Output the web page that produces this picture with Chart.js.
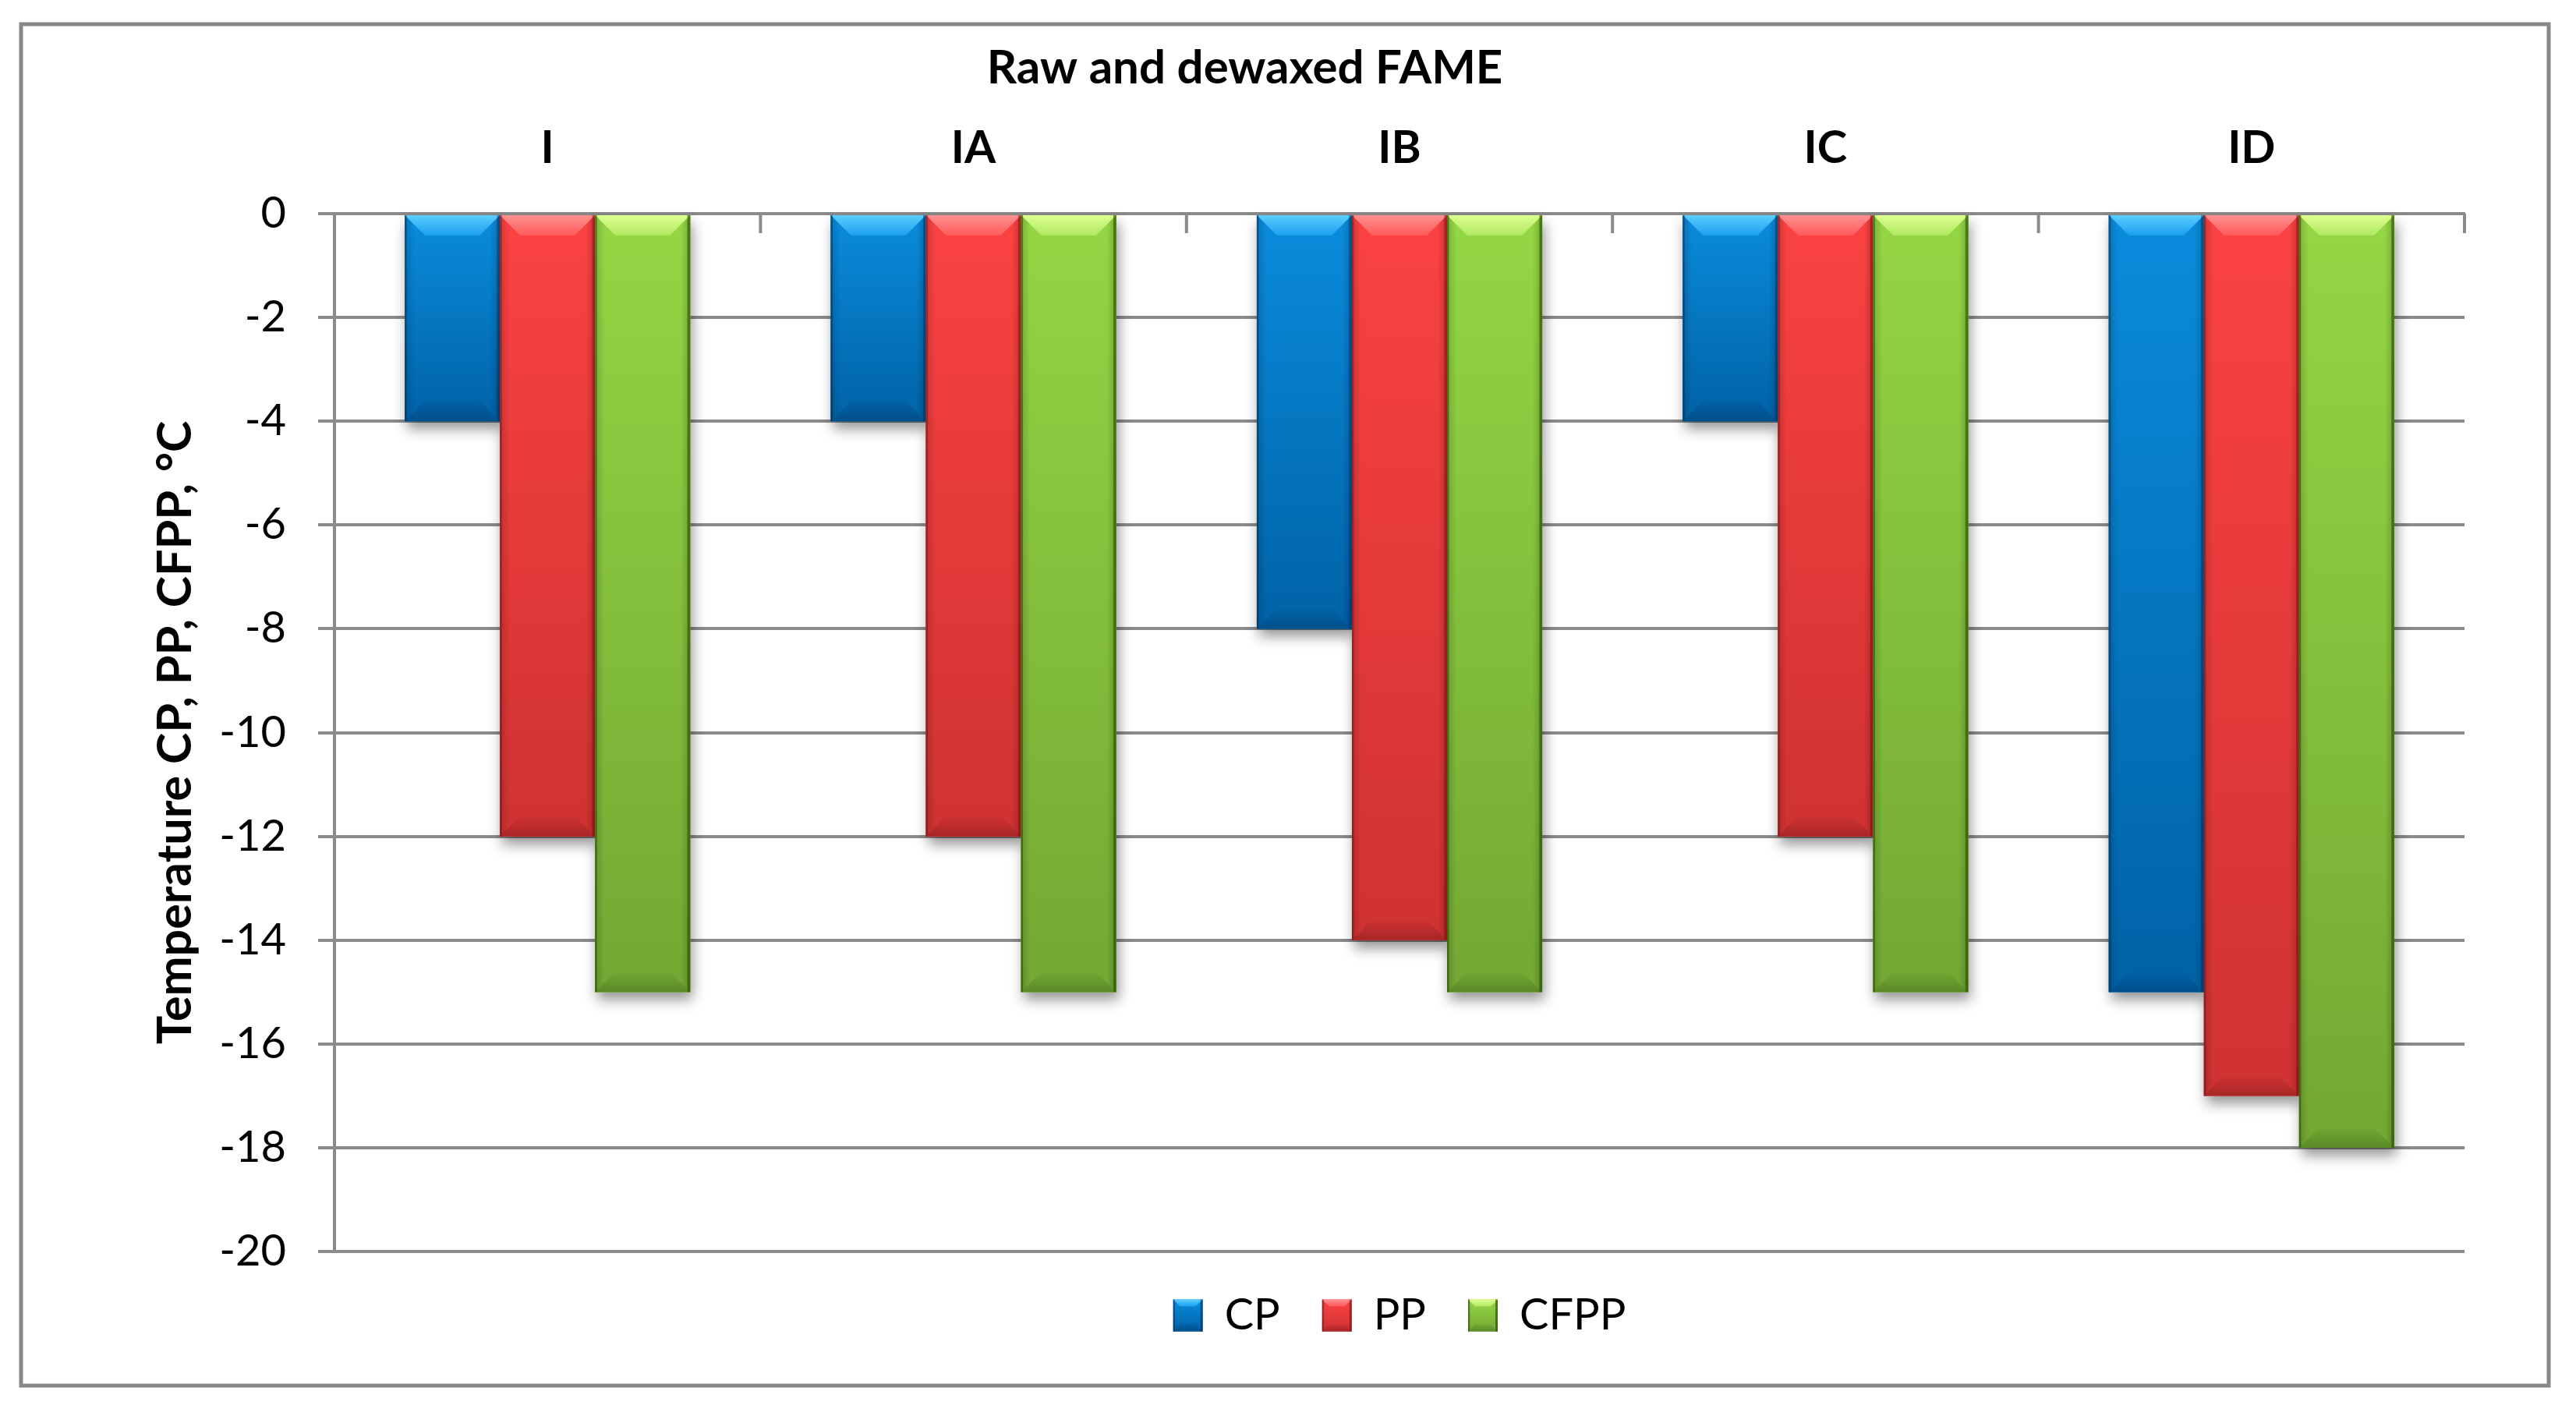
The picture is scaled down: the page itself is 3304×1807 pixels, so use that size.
<!DOCTYPE html>
<html>
<head>
<meta charset="utf-8">
<script src="https://cdn.jsdelivr.net/npm/chart.js@4.4.1/dist/chart.umd.min.js"></script>
<style>
  html, body { margin: 0; padding: 0; background: #fff; }
  canvas { display: block; }
</style>
</head>
<body>
<canvas id="fameChart" width="3304" height="1807"></canvas>
<script>
// ===== Data =====
const categories = ['I', 'IA', 'IB', 'IC', 'ID'];
const seriesNames = ['CP', 'PP', 'CFPP'];
const cpValues = [-4, -4, -8, -4, -15];
const ppValues = [-12, -12, -14, -12, -17];
const cfppValues = [-15, -15, -15, -15, -18];
const yMin = -20;
const yMax = 0;
const yStep = 2;

const chartTitle = 'Raw and dewaxed FAME';
const yAxisTitle = 'Temperature CP, PP, CFPP, °C';

// ===== Look =====
const FONT = 'Lato, "Open Sans", sans-serif';
const GRID = '#8a8a8a';

const palettes = [
  { fill: '#0a84d4', top: '#0a8cdc', bottom: '#0062a6', hi: '#5ccdff', hi2: '#1aa0ee', low: '#00508a', edge: 'rgba(0,40,80,0.45)' },
  { fill: '#f53e3e', top: '#fb4242', bottom: '#cf3232', hi: '#ff9090', hi2: '#ff5a5a', low: '#a82626', edge: 'rgba(110,10,10,0.45)' },
  { fill: '#8cce3e', top: '#94d644', bottom: '#73a833', hi: '#dcff90', hi2: '#b0e860', low: '#5a8a26', edge: 'rgba(40,80,0,0.6)' }
];

// beveled bar in the style of the old Office charts
function drawBevel(ctx, x, y, w, h, pal, d) {
  if (h <= 0 || w <= 0) return;
  d = Math.min(d, w / 3, h / 2);
  ctx.save();
  const g = ctx.createLinearGradient(0, y, 0, y + h);
  g.addColorStop(0, pal.top);
  g.addColorStop(1, pal.bottom);
  ctx.fillStyle = g;
  ctx.fillRect(x, y, w, h);

  // darker sides
  const gh = ctx.createLinearGradient(x, 0, x + w, 0);
  gh.addColorStop(0, 'rgba(0,0,0,0.16)');
  gh.addColorStop(0.1, 'rgba(0,0,0,0)');
  gh.addColorStop(0.9, 'rgba(0,0,0,0)');
  gh.addColorStop(1, 'rgba(0,0,0,0.2)');
  ctx.fillStyle = gh;
  ctx.fillRect(x, y, w, h);

  // top chamfer (light)
  ctx.beginPath();
  ctx.moveTo(x, y);
  ctx.lineTo(x + w, y);
  ctx.lineTo(x + w - d, y + d);
  ctx.lineTo(x + d, y + d);
  ctx.closePath();
  const gt = ctx.createLinearGradient(0, y, 0, y + d);
  gt.addColorStop(0, pal.hi);
  gt.addColorStop(1, pal.hi2);
  ctx.fillStyle = gt;
  ctx.fill();

  // bottom chamfer (dark)
  ctx.beginPath();
  ctx.moveTo(x, y + h);
  ctx.lineTo(x + w, y + h);
  ctx.lineTo(x + w - d, y + h - d);
  ctx.lineTo(x + d, y + h - d);
  ctx.closePath();
  const gb = ctx.createLinearGradient(0, y + h - d, 0, y + h);
  gb.addColorStop(0, pal.bottom);
  gb.addColorStop(1, pal.low);
  ctx.fillStyle = gb;
  ctx.fill();

  // thin edges
  ctx.fillStyle = pal.edge;
  ctx.fillRect(x, y, Math.max(2, w * 0.02), h);
  ctx.fillRect(x + w - Math.max(3, w * 0.03), y, Math.max(3, w * 0.03), h);
  ctx.restore();
}

function barBox(el) {
  const p = el.getProps(['x', 'y', 'base', 'width'], true);
  const top = Math.min(p.y, p.base);
  const bottom = Math.max(p.y, p.base);
  return { x: p.x - p.width / 2, y: top, w: p.width, h: bottom - top };
}

const excelLook = {
  id: 'excelLook',
  beforeDraw(chart) {
    const ctx = chart.ctx;
    ctx.save();
    ctx.fillStyle = '#fff';
    ctx.fillRect(0, 0, chart.width, chart.height);
    // outer chart frame
    ctx.strokeStyle = '#878787';
    ctx.lineWidth = 5;
    ctx.strokeRect(27, 31, 3242, 1746);
    ctx.restore();
  },
  afterLayout(chart) {
    // Excel put the title a little right of the canvas centre
    if (chart.titleBlock) {
      chart.titleBlock.left += 16;
      chart.titleBlock.right += 16;
    }
  },
  beforeDatasetsDraw(chart) {
    const ctx = chart.ctx;
    chart.data.datasets.forEach((ds, i) => {
      const meta = chart.getDatasetMeta(i);
      meta.data.forEach(el => {
        const b = barBox(el);
        ctx.save();
        ctx.shadowColor = 'rgba(0,0,0,0.42)';
        ctx.shadowBlur = 16;
        ctx.shadowOffsetX = 3;
        ctx.shadowOffsetY = 10;
        ctx.fillStyle = palettes[i].bottom;
        ctx.fillRect(b.x, b.y, b.w, b.h);
        ctx.restore();
      });
    });
  },
  afterDatasetsDraw(chart) {
    const ctx = chart.ctx;
    chart.data.datasets.forEach((ds, i) => {
      const meta = chart.getDatasetMeta(i);
      meta.data.forEach(el => {
        const b = barBox(el);
        drawBevel(ctx, b.x, b.y, b.w, b.h, palettes[i], 26);
      });
    });

    // category tick marks pointing down from the zero line
    const xs = chart.scales.x;
    const ys = chart.scales.y;
    const y0 = ys.getPixelForValue(0);
    const half = (xs.getPixelForValue(1) - xs.getPixelForValue(0)) / 2;
    ctx.save();
    ctx.strokeStyle = GRID;
    ctx.lineWidth = 4;
    for (let i = 0; i <= categories.length; i++) {
      const px = i < categories.length ? xs.getPixelForValue(i) - half : xs.getPixelForValue(i - 1) + half;
      ctx.beginPath();
      ctx.moveTo(px, y0);
      ctx.lineTo(px, y0 + 25);
      ctx.stroke();
    }
    ctx.restore();
  },
  afterDraw(chart) {
    // bevelled legend swatches
    const legend = chart.legend;
    if (!legend || !legend.legendHitBoxes) return;
    legend.legendHitBoxes.forEach((hb, i) => {
      const bw = 38, bh = 41;
      const by = hb.top + (hb.height - bh) / 2;
      chart.ctx.save();
      chart.ctx.fillStyle = '#fff';
      chart.ctx.fillRect(hb.left - 1, by - 1, bw + 2, bh + 2);
      chart.ctx.restore();
      drawBevel(chart.ctx, hb.left, by, bw, bh, palettes[i], 9);
    });
  }
};

const ctx = document.getElementById('fameChart');

new Chart(ctx, {
  type: 'bar',
  data: {
    labels: categories,
    datasets: [
      { label: seriesNames[0], data: cpValues, backgroundColor: palettes[0].fill },
      { label: seriesNames[1], data: ppValues, backgroundColor: palettes[1].fill },
      { label: seriesNames[2], data: cfppValues, backgroundColor: palettes[2].fill }
    ]
  },
  options: {
    responsive: false,
    devicePixelRatio: 1,
    animation: false,
    categoryPercentage: 0.67,
    barPercentage: 1.0,
    borderWidth: 0,
    layout: { padding: { left: 0, right: 143, top: 0, bottom: 82 } },
    plugins: {
      title: {
        display: true,
        text: chartTitle,
        color: '#000',
        font: { family: FONT, size: 60, weight: 'bold' },
        padding: { top: 52, bottom: 0 }
      },
      legend: {
        position: 'bottom',
        fullSize: false,
        labels: {
          color: '#000',
          font: { family: FONT, size: 56 },
          boxWidth: 38,
          boxHeight: 41,
          padding: 54
        }
      },
      tooltip: { enabled: false }
    },
    scales: {
      x: {
        position: 'top',
        grid: { display: false },
        border: { display: true, color: GRID, width: 4 },
        ticks: {
          color: '#000',
          font: { family: FONT, size: 58, weight: 'bold' },
          padding: 41,
          maxRotation: 0
        },
        afterFit(scale) { scale.height = 274 - scale.chart.titleBlock.height; }
      },
      y: {
        min: yMin,
        max: yMax,
        grid: { color: GRID, lineWidth: 4, drawTicks: true, tickLength: 21, tickColor: GRID, tickWidth: 4 },
        border: { display: true, color: GRID, width: 4 },
        ticks: {
          stepSize: yStep,
          color: '#000',
          font: { family: FONT, size: 56 },
          padding: 41
        },
        title: {
          display: true,
          text: yAxisTitle,
          color: '#000',
          font: { family: FONT, size: 61, weight: 'bold' },
          padding: { top: 189, bottom: 0 }
        },
        afterFit(scale) { scale.width = 429; }
      }
    }
  },
  plugins: [excelLook]
});
</script>
</body>
</html>
